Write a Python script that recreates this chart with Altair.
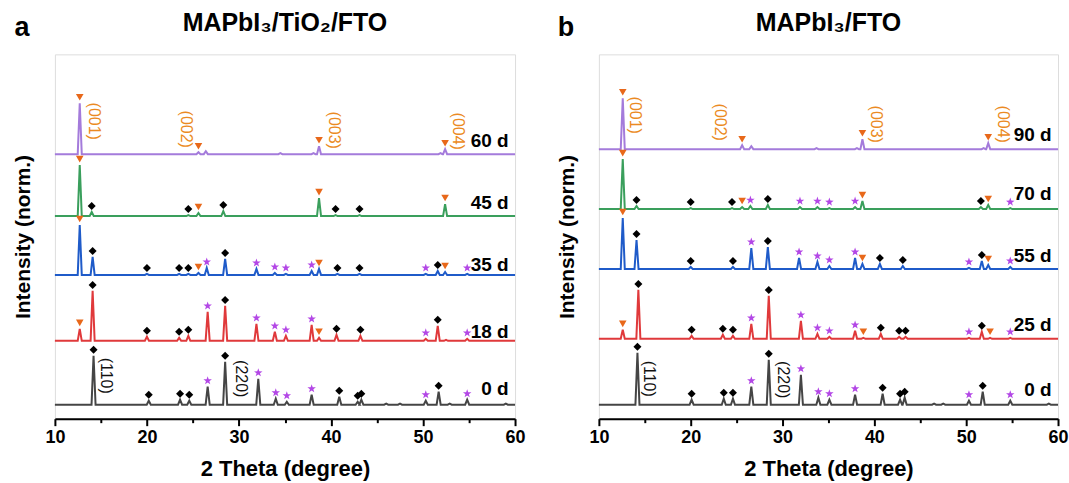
import altair as alt
import pandas as pd

# ---------------- data ----------------
X_MIN, X_MAX = 10, 60
Y_MAX = 365          # vertical range of each panel (a.u., stacked)
PEAK_HALF_WIDTH = 0.22
MARKER_GAP = 6

SERIES_COLORS = ["#A47BDB", "#3A9F5C", "#1F5BC9", "#E0393B", "#454545"]

# peaks: (2theta, height above baseline, marker kind) d=diamond s=star t=triangle
# ---- panel a: MAPbI3/TiO2/FTO ----
A_NAMES = ["60 d", "45 d", "35 d", "18 d", "0 d"]
A_OFFSETS = [265, 203, 144, 78, 14]
A_LABEL_Y = [278, 216, 154, 87, 30]
A_60D = [(12.7, 51, "t"), (25.6, 2, "t"), (26.4, 3, ""), (34.5, 1, ""), (38.1, 1, ""),
         (38.7, 8, "t"), (51.9, 1, ""), (52.4, 5, "t")]
A_45D = [(12.7, 51, "t"), (14.0, 4, "d"), (24.5, 1, "d"), (25.6, 3, "t"), (28.3, 5, "d"),
         (38.7, 18, "t"), (40.5, 1, "d"), (43.1, 1, "d"), (52.4, 12, "t")]
A_35D = [(12.7, 50, "t"), (14.1, 18, "d"), (20.0, 1, "d"), (23.5, 1, "d"), (24.5, 1, "d"),
         (25.6, 2, "t"), (26.5, 7, "s"), (28.5, 16, "d"), (31.9, 6, "s"), (33.9, 2, "s"),
         (35.1, 1, "s"), (37.9, 4, "s"), (38.7, 6, "t"), (40.7, 1, "d"), (43.1, 1, "d"),
         (50.3, 1, "s"), (51.6, 4, "d"), (52.4, 3, "t"), (54.8, 1, "s")]
A_18D = [(12.7, 12, "t"), (14.1, 50, "d"), (20.0, 4, "d"), (23.5, 3, "d"), (24.5, 5, "d"),
         (26.6, 29, "s"), (28.5, 35, "d"), (31.9, 17, "s"), (33.9, 9, "s"), (35.1, 5, "s"),
         (37.9, 16, "s"), (38.7, 3, "t"), (40.6, 6, "d"), (43.2, 5, "d"), (50.3, 2, "s"),
         (51.6, 15, "d"), (52.5, 1, ""), (54.8, 2, "s")]
A_0D = [(14.2, 49, "d"), (20.2, 4, "d"), (23.6, 5, "d"), (24.6, 4, "d"), (26.6, 18, "s"),
        (28.5, 43, "d"), (32.1, 26, "s"), (34.0, 6, "s"), (35.2, 3, "s"), (37.9, 10, "s"),
        (40.9, 8, "d"), (42.9, 3, "d"), (43.3, 5, "d"), (46.0, 1, ""), (47.5, 1, ""),
        (50.3, 4, "s"), (51.7, 13, "d"), (52.9, 1, ""), (54.8, 5, "s"), (59.0, 1, "")]
A_HKL_TEXT = ["(001)", "(002)", "(003)", "(004)", "(110)", "(220)"]
A_HKL_X = [14.2, 24.2, 40.3, 53.8, 15.5, 30.2]
A_HKL_Y = [298, 290, 289, 288, 43, 40]

# ---- panel b: MAPbI3/FTO ----
B_NAMES = ["90 d", "70 d", "55 d", "25 d", "0 d"]
B_OFFSETS = [270, 210, 150, 80, 14]
B_LABEL_Y = [284, 225, 163, 94, 29]
B_90D = [(12.6, 51, "t"), (25.6, 4, "t"), (26.6, 3, ""), (33.7, 1, ""), (38.1, 1, ""),
         (38.7, 10, "t"), (51.9, 1, ""), (52.4, 6, "t")]
B_70D = [(12.6, 50, "t"), (14.1, 3, "d"), (20.0, 1, "d"), (24.5, 1, "d"), (25.6, 2, "t"),
         (26.5, 3, "s"), (28.4, 4, "d"), (31.9, 2, "s"), (33.8, 2, "s"), (35.1, 1, "s"),
         (37.9, 2, "s"), (38.7, 8, "t"), (51.6, 2, "d"), (52.4, 4, "t"), (54.8, 1, "s")]
B_55D = [(12.6, 51, "t"), (14.1, 29, "d"), (20.0, 2, "d"), (24.6, 2, "d"), (26.6, 21, "s"),
         (28.4, 22, "d"), (31.8, 11, "s"), (33.8, 7, "s"), (35.1, 3, "s"), (37.9, 11, "s"),
         (38.7, 5, "t"), (40.6, 5, "d"), (43.1, 3, "d"), (50.3, 1, "s"), (51.7, 8, "d"),
         (52.4, 4, "t"), (54.8, 2, "s")]
B_25D = [(12.6, 9, "t"), (14.3, 49, "d"), (20.1, 3, "d"), (23.5, 4, "d"), (24.6, 3, "d"),
         (26.6, 15, "s"), (28.5, 43, "d"), (32.0, 18, "s"), (33.8, 5, "s"), (35.1, 2, "s"),
         (37.9, 8, "s"), (38.8, 1, "t"), (40.7, 5, "d"), (42.7, 2, "d"), (43.4, 2, "d"),
         (50.3, 1, "s"), (51.7, 7, "d"), (52.6, 1, "t"), (54.8, 1, "s")]
B_0D = [(14.2, 52, "d"), (20.1, 5, "d"), (23.6, 6, "d"), (24.6, 6, "d"), (26.6, 18, "s"),
        (28.5, 45, "d"), (32.0, 30, "s"), (33.9, 7, "s"), (35.1, 5, "s"), (37.9, 10, "s"),
        (40.9, 11, "d"), (42.8, 5, "d"), (43.3, 7, "d"), (46.5, 1, ""), (47.5, 1, ""),
        (50.3, 4, "s"), (51.8, 13, "d"), (54.8, 4, "s"), (59.0, 1, "")]
B_HKL_TEXT = ["(001)", "(002)", "(003)", "(004)", "(110)", "(220)"]
B_HKL_X = [13.9, 23.2, 40.2, 54.0, 15.5, 30.1]
B_HKL_Y = [304, 297, 295, 295, 40, 39]

HKL_COLORS = ["#EB8A22", "#EB8A22", "#EB8A22", "#EB8A22", "#111111", "#111111"]

STAR = ("M0,-1L0.236,-0.325L0.951,-0.309L0.382,0.124L0.588,0.809L0,0.4"
        "L-0.588,0.809L-0.382,0.124L-0.951,-0.309L-0.236,-0.325Z")
FONT = "Liberation Sans"


def build_frames(names, offsets, peak_sets, label_y, hkl_text, hkl_x, hkl_y):
    line_rows, mark_rows = [], []
    for i, (base, peaks) in enumerate(zip(offsets, peak_sets)):
        pts = [(X_MIN, base)]
        for x, h, kind in sorted(peaks):
            pts += [(x - PEAK_HALF_WIDTH, base), (x, base + h), (x + PEAK_HALF_WIDTH, base)]
            if kind:
                mark_rows.append({"x": x, "y": base + h + MARKER_GAP, "kind": kind})
        pts.append((X_MAX, base))
        for j, (px, py) in enumerate(pts):
            line_rows.append({"series": f"s{i}", "x": px, "y": py, "ord": j})
    lines = pd.DataFrame(line_rows)
    marks = pd.DataFrame(mark_rows)
    labels = pd.DataFrame({"x": [59.3] * len(names), "y": label_y, "text": names})
    hkl = pd.DataFrame({"x": hkl_x, "y": hkl_y, "text": hkl_text, "color": HKL_COLORS})
    return lines, marks, labels, hkl


def panel(frames, title, letter, width):
    lines, marks, labels, hkl = frames
    xs = alt.Scale(domain=[X_MIN, X_MAX], nice=False, zero=False)
    ys = alt.Scale(domain=[0, Y_MAX], nice=False, zero=False)
    x_axis = alt.Axis(
        title="2 Theta (degree)", values=list(range(10, 61, 5)),
        labelExpr="datum.value % 10 === 0 ? datum.label : ''",
        tickSize={"condition": {"test": "datum.value % 10 !== 0", "value": 4}, "value": 7},
        tickColor="black", tickWidth=2, domainColor="black", domainWidth=2,
        labelFont=FONT, labelFontSize=18, labelFontWeight="bold", labelColor="black",
        labelPadding=3, labelFlush=False,
        titleFont=FONT, titleFontSize=22, titleFontWeight="bold", titleColor="black",
        titlePadding=12, grid=False)
    y_axis = alt.Axis(
        title="Intensity (norm.)", labels=False, ticks=False, domain=False, grid=False,
        titleFont=FONT, titleFontSize=21, titleFontWeight="bold", titleColor="black",
        titlePadding=21)

    line_layer = alt.Chart(lines).mark_line(strokeWidth=2).encode(
        x=alt.X("x:Q", scale=xs, axis=x_axis),
        y=alt.Y("y:Q", scale=ys, axis=y_axis),
        color=alt.Color("series:N", scale=alt.Scale(domain=["s0", "s1", "s2", "s3", "s4"],
                                                    range=SERIES_COLORS), legend=None),
        detail="series:N",
        order="ord:Q",
    )
    diamonds = alt.Chart(marks).transform_filter(alt.datum.kind == "d").mark_point(
        shape="diamond", filled=True, size=64, color="black", opacity=1).encode(
        x=alt.X("x:Q", scale=xs), y=alt.Y("y:Q", scale=ys))
    stars = alt.Chart(marks).transform_filter(alt.datum.kind == "s").mark_point(
        shape=STAR, filled=True, size=80, color="#B347E6", opacity=1).encode(
        x=alt.X("x:Q", scale=xs), y=alt.Y("y:Q", scale=ys))
    tris = alt.Chart(marks).transform_filter(alt.datum.kind == "t").mark_point(
        shape="triangle-down", filled=True, size=58, color="#E8681A", opacity=1).encode(
        x=alt.X("x:Q", scale=xs), y=alt.Y("y:Q", scale=ys))
    sample_labels = alt.Chart(labels).mark_text(
        align="right", baseline="middle", font=FONT, fontSize=19, fontWeight="bold",
        color="black").encode(
        x=alt.X("x:Q", scale=xs), y=alt.Y("y:Q", scale=ys), text="text:N")
    hkl_labels = alt.Chart(hkl).mark_text(
        angle=90, align="center", baseline="middle", font=FONT, fontSize=16).encode(
        x=alt.X("x:Q", scale=xs), y=alt.Y("y:Q", scale=ys), text="text:N",
        color=alt.Color("color:N", scale=None))
    title_layer = alt.Chart(pd.DataFrame({"t": [title]})).mark_text(
        align="center", baseline="middle", font=FONT, fontSize=25, fontWeight="bold",
        color="black").encode(x=alt.value(width / 2), y=alt.value(-31), text="t:N")
    letter_layer = alt.Chart(pd.DataFrame({"t": [letter]})).mark_text(
        align="center", baseline="middle", font=FONT, fontSize=27, fontWeight="bold",
        color="black").encode(x=alt.value(-33), y=alt.value(-26), text="t:N")

    return alt.layer(line_layer, diamonds, stars, tris, sample_labels, hkl_labels,
                     title_layer, letter_layer).properties(width=width, height=Y_MAX)


frames_a = build_frames(A_NAMES, A_OFFSETS, [A_60D, A_45D, A_35D, A_18D, A_0D], A_LABEL_Y,
                        A_HKL_TEXT, A_HKL_X, A_HKL_Y)
frames_b = build_frames(B_NAMES, B_OFFSETS, [B_90D, B_70D, B_55D, B_25D, B_0D], B_LABEL_Y,
                        B_HKL_TEXT, B_HKL_X, B_HKL_Y)

chart = alt.hconcat(
    panel(frames_a, "MAPbI₃/TiO₂/FTO", "a", 461),
    panel(frames_b, "MAPbI₃/FTO", "b", 460),
    spacing=30,
).properties(
    padding={"left": 12, "top": 10, "right": 0, "bottom": 2}
).configure_view(stroke="black", strokeWidth=2).configure(background="white")

chart.save("out.html", embed_options={"renderer": "svg", "actions": False})
